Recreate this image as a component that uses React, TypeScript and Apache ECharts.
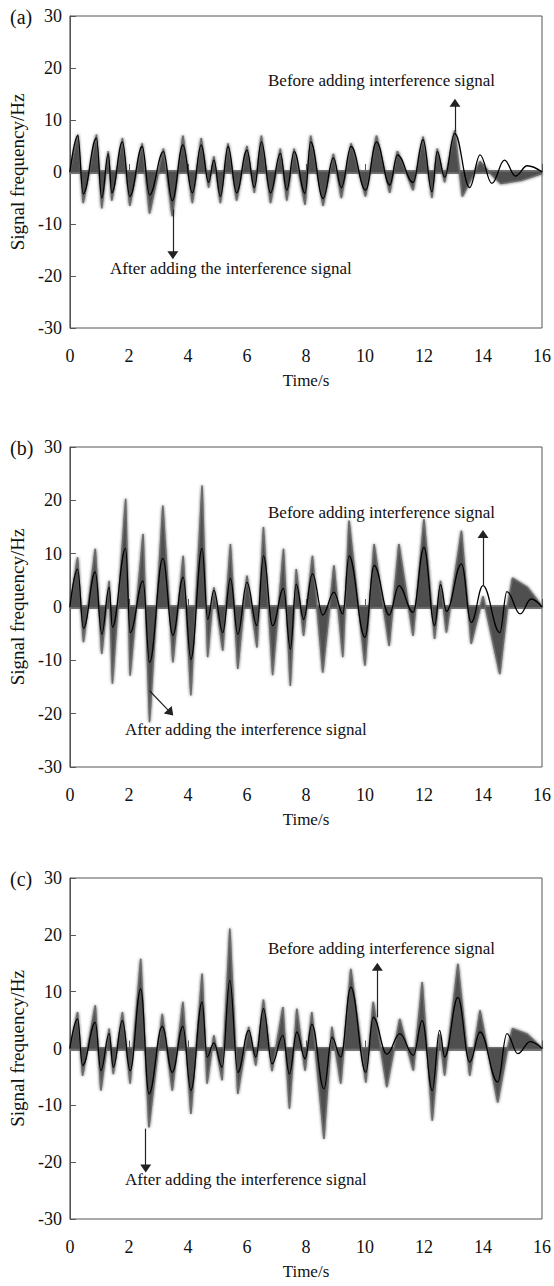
import React, { useEffect, useRef } from "react";
import * as echarts from "echarts";

const FONT = "'Liberation Serif', 'Times New Roman', serif";

const panelLabels = ["(a)", "(b)", "(c)"];
const yAxisName = "Signal frequency/Hz";
const xAxisName = "Time/s";
const beforeText = "Before adding interference signal";
const afterText = "After adding the interference signal";
const xMin = 0, xMax = 16, xStep = 2;
const yMin = -30, yMax = 30, yStep = 10;

// panel (a)
const aBefore: number[][] = [
  [0, 0], [0.27, 7], [0.45, -4.2], [0.9, 6.5], [1.08, -5], [1.3, 3.5], [1.42, -4], [1.78, 5.8],
  [2.03, -4.7], [2.45, 4.9], [2.7, -4.4], [3.17, 3.9], [3.47, -5.5], [3.83, 5.2], [4.15, -4],
  [4.45, 5.2], [4.7, -2], [4.88, 2.3], [5.1, -4.7], [5.36, 4.9], [5.65, -4], [6.0, 4.2], [6.25, -3],
  [6.49, 5.8], [6.8, -4], [7.13, 3.6], [7.35, -3.5], [7.6, 3.9], [7.97, -4.1], [8.16, 5.8],
  [8.58, -5.1], [8.93, 2.7], [9.2, -3], [9.53, 4.9], [10.02, -3.5], [10.39, 5.8], [10.84, -2.5],
  [11.1, 3.3], [11.63, -2], [11.97, 6.2], [12.27, -3.8], [12.45, 3.9], [12.7, -1], [13.04, 7.4],
  [13.55, -3], [13.9, 3.3], [14.3, -2.2], [14.73, 2.3], [15.1, -0.8], [15.5, 1.2], [16, 0],
];
const aAfter: number[][] = [
  [0, 0], [0.27, 7.2], [0.45, -6], [0.9, 7.2], [1.08, -7], [1.3, 4], [1.42, -5.5], [1.78, 6.5],
  [2.03, -6.5], [2.45, 5.5], [2.7, -8], [3.17, 4.5], [3.47, -8.5], [3.83, 7], [4.15, -6], [4.45, 6.5],
  [4.7, -3], [4.88, 3], [5.1, -6], [5.36, 5.5], [5.65, -5.5], [6.0, 5], [6.25, -4], [6.49, 7],
  [6.8, -6], [7.13, 4.5], [7.35, -5.5], [7.6, 4.5], [7.97, -6.3], [8.16, 7], [8.58, -6.5],
  [8.93, 3.5], [9.2, -5], [9.53, 5.5], [10.02, -4.7], [10.39, 7], [10.84, -4], [11.1, 4],
  [11.63, -3.5], [11.97, 6.8], [12.27, -5], [12.45, 4.5], [12.7, -2], [13.04, 8], [13.3, -4.7],
  [13.9, 2], [14.2, 0], [14.6, -2.2], [15.3, -1.6], [16, -0.3],
];

// panel (b)
const bBefore: number[][] = [
  [0, 0], [0.26, 7.1], [0.46, -4], [0.86, 6.6], [1.08, -5.1], [1.33, 3.7], [1.44, -3.8], [1.89, 11],
  [2.04, -4.8], [2.48, 4.9], [2.7, -10.4], [3.15, 9.1], [3.49, -5.3], [3.84, 5.6], [4.1, -9.8],
  [4.48, 11], [4.67, -2.3], [4.88, 3.1], [5.18, -4.8], [5.44, 5.4], [5.69, -5.1], [6.0, 4.6],
  [6.34, -3.5], [6.56, 9.6], [6.87, -3.5], [7.24, 3.5], [7.47, -7.9], [7.67, 4.3], [7.92, -2.3],
  [8.22, 6.2], [8.57, -1.5], [8.95, 2.8], [9.25, -1.3], [9.46, 9.6], [10.0, -5.7], [10.31, 7.8],
  [10.82, -1.5], [11.15, 4], [11.63, -1], [12.0, 11.2], [12.36, -3.5], [12.56, 4.2], [12.76, -0.8],
  [13.27, 8.1], [13.6, -2.9], [14.0, 4], [14.57, -4.8], [14.81, 2.9], [15.26, -1.3], [15.63, 1.5],
  [16, 0],
];
const bAfter: number[][] = [
  [0, 0], [0.26, 9.3], [0.46, -6.6], [0.86, 10.9], [1.08, -8.8], [1.33, 4.9], [1.44, -14.4],
  [1.89, 20.3], [2.04, -12.9], [2.48, 13.7], [2.7, -21.6], [3.15, 19], [3.49, -10.4], [3.84, 9.6],
  [4.1, -16.6], [4.48, 22.8], [4.67, -9.4], [4.88, 3.7], [5.18, -8.2], [5.44, 11.8], [5.69, -11.6],
  [6.0, 5.9], [6.34, -7.6], [6.56, 15], [6.87, -12.8], [7.24, 10.9], [7.47, -14.8], [7.67, 7.1],
  [7.92, -5.4], [8.22, 9.6], [8.57, -12.3], [8.95, 7.8], [9.25, -9.4], [9.46, 16.2], [10.0, -11],
  [10.31, 11.8], [10.82, -7.3], [11.15, 11.8], [11.63, -5.4], [12.0, 16.5], [12.36, -6],
  [12.56, 4.9], [12.76, -4.8], [13.27, 14.3], [13.6, -6.9], [14.0, 2], [14.57, -12.6], [14.83, 0],
  [15.0, 5.4], [15.5, 3.7], [15.85, 1.2], [16, 0],
];

// panel (c)
const cBefore: number[][] = [
  [0, 0], [0.26, 5.2], [0.43, -3], [0.86, 4.6], [1.05, -3.9], [1.33, 2.6], [1.47, -3.3], [1.78, 4.9],
  [2.04, -3.9], [2.4, 10.5], [2.68, -8], [3.13, 3.9], [3.47, -4.2], [3.83, 3.9], [4.1, -7.4],
  [4.48, 8.2], [4.65, -1.5], [4.88, 1], [5.16, -3.3], [5.42, 12], [5.69, -4.2], [6.06, 3.2],
  [6.3, -1.5], [6.56, 7], [6.85, -2.7], [7.22, 2.3], [7.44, -4.5], [7.69, 2.9], [7.97, -1.8],
  [8.2, 4.3], [8.61, -7.1], [8.88, 2], [9.18, -1.5], [9.52, 10.8], [10.03, -4.2], [10.28, 5.5],
  [10.74, -1], [11.18, 2.6], [11.64, -1.2], [11.94, 4.9], [12.28, -7.4], [12.53, 3.2], [12.7, -1.5],
  [13.15, 9], [13.55, -2.4], [13.9, 2.9], [14.5, -5.9], [14.81, 2.6], [15.18, -0.9], [15.6, 1.2],
  [16, 0],
];
const cAfter: number[][] = [
  [0, 0], [0.26, 6.4], [0.43, -4.8], [0.86, 7.6], [1.05, -7.4], [1.33, 3.5], [1.47, -4.5],
  [1.78, 6.4], [2.04, -6.2], [2.4, 15.8], [2.68, -13.9], [3.13, 6.1], [3.47, -7.4], [3.83, 8.2],
  [4.1, -11.5], [4.48, 13.2], [4.65, -6.2], [4.88, 2.3], [5.16, -5.6], [5.42, 21.1], [5.69, -8],
  [6.06, 3.8], [6.3, -3], [6.56, 8.6], [6.85, -4], [7.22, 7.3], [7.44, -10.6], [7.69, 7],
  [7.97, -3.9], [8.2, 6.4], [8.61, -15.9], [8.88, 3.8], [9.18, -6.2], [9.52, 14], [10.03, -6],
  [10.28, 8.2], [10.74, -6.8], [11.18, 5.2], [11.64, -3.9], [11.94, 11.7], [12.28, -12.7],
  [12.53, 2.5], [12.7, -4.8], [13.15, 14.9], [13.55, -4.8], [13.9, 6.7], [14.5, -9.5], [14.83, 0],
  [15.0, 3.5], [15.5, 2.5], [15.85, 0.8], [16, 0],
];

// arrows: [xFrom, yFrom, xTo, yTo]
const beforeArrows: number[][] = [[13.05, 7.6, 13.05, 13.3], [14.0, 4, 14.0, 13.7], [10.42, 5.5, 10.42, 14.4]];
const afterArrows: number[][] = [[3.49, -7.2, 3.49, -16], [2.7, -15.7, 3.41, -19.8], [2.57, -14.1, 2.57, -21.1]];

const beforeSeries = [aBefore, bBefore, cBefore];
const afterSeries = [aAfter, bAfter, cAfter];

const grids = [
  { left: 69, top: 16, width: 473, height: 312 },
  { left: 69, top: 447, width: 475, height: 320 },
  { left: 69, top: 878, width: 475, height: 341 },
];
const beforeTextPos = [[268, 80], [268, 512], [268, 948]];
const afterTextPos = [[110, 268], [125, 729], [125, 1179]];

export default function App() {
  const ref = useRef<HTMLDivElement>(null);
  useEffect(() => {
    if (!ref.current) return;
    const chart = echarts.init(ref.current, undefined, { renderer: "svg" });
    const axisColor = "#555";
    const textColor = "#111";
    const option: any = {
      animation: false,
      backgroundColor: "#fff",
      grid: grids.map((g) => ({ ...g, show: true, borderColor: axisColor, borderWidth: 1, backgroundColor: "transparent" })),
      xAxis: grids.map((_, i) => ({
        gridIndex: i,
        type: "value",
        min: xMin,
        max: xMax,
        interval: xStep,
        axisLine: { show: true, lineStyle: { color: axisColor, width: 1 } },
        axisTick: { show: true, inside: true, length: 8, lineStyle: { color: axisColor } },
        axisLabel: { margin: 19, fontSize: 18, color: textColor, fontFamily: FONT },
        splitLine: { show: false },
        name: xAxisName,
        nameLocation: "middle",
        nameGap: 44,
        nameTextStyle: { fontSize: 17, color: textColor, fontFamily: FONT },
      })),
      yAxis: grids.map((_, i) => ({
        gridIndex: i,
        type: "value",
        min: yMin,
        max: yMax,
        interval: yStep,
        axisLine: { show: true, lineStyle: { color: axisColor, width: 1 } },
        axisTick: { show: true, inside: true, length: 6, lineStyle: { color: axisColor } },
        axisLabel: { margin: 8, fontSize: 18, color: textColor, fontFamily: FONT },
        splitLine: { show: false },
        name: yAxisName,
        nameLocation: "middle",
        nameGap: 36,
        nameRotate: 90,
        nameTextStyle: { fontSize: 19, color: textColor, fontFamily: FONT },
      })),
      series: [] as any[],
      graphic: [] as any[],
    };
    grids.forEach((_, i) => {
      option.series.push({
        type: "line",
        xAxisIndex: i,
        yAxisIndex: i,
        data: afterSeries[i],
        showSymbol: false,
        symbol: "none",
        lineStyle: { width: 1.5, color: "#6a6a6a", shadowBlur: 3, shadowColor: "rgba(80,80,80,0.8)" },
        areaStyle: { color: "#505050", opacity: 1, shadowBlur: 3, shadowColor: "rgba(60,60,60,0.8)" },
        z: 1,
        markLine: {
          silent: true,
          symbol: ["none", "none"],
          label: { show: false },
          lineStyle: { color: "#7a7a7a", width: 4, type: "solid" },
          data: [{ yAxis: 0 }],
          z: 1,
        },
      });
      option.series.push({
        type: "line",
        xAxisIndex: i,
        yAxisIndex: i,
        data: beforeSeries[i],
        showSymbol: false,
        symbol: "none",
        smooth: 0.4,
        smoothMonotone: "x",
        lineStyle: { width: 1.3, color: "#000" },
        z: 3,
      });
      option.series.push({
        type: "line",
        xAxisIndex: i,
        yAxisIndex: i,
        data: [],
        symbol: "none",
        z: 4,
        markLine: {
          silent: true,
          symbol: ["none", "triangle"],
          symbolSize: [11, 8],
          label: { show: false },
          lineStyle: { color: "#222", width: 1.2, type: "solid" },
          data: [
            [
              { coord: [beforeArrows[i][0], beforeArrows[i][1]] },
              { coord: [beforeArrows[i][2], beforeArrows[i][3]] },
            ],
            [
              { coord: [afterArrows[i][0], afterArrows[i][1]] },
              { coord: [afterArrows[i][2], afterArrows[i][3]] },
            ],
          ],
        },
      });
      option.graphic.push({
        type: "text",
        x: 10,
        y: grids[i].top + 1,
        style: { text: panelLabels[i], font: `20px ${FONT}`, fill: textColor, textVerticalAlign: "middle" },
      });
      option.graphic.push({
        type: "text",
        x: beforeTextPos[i][0],
        y: beforeTextPos[i][1],
        style: { text: beforeText, font: `17px ${FONT}`, fill: textColor, textVerticalAlign: "middle" },
      });
      option.graphic.push({
        type: "text",
        x: afterTextPos[i][0],
        y: afterTextPos[i][1],
        style: { text: afterText, font: `17px ${FONT}`, fill: textColor, textVerticalAlign: "middle" },
      });
    });
    chart.setOption(option);
    return () => chart.dispose();
  }, []);
  return (
    <div
      ref={ref}
      style={{ position: "absolute", left: 0, top: 0, width: 554, height: 1286, background: "#fff" }}
    />
  );
}
